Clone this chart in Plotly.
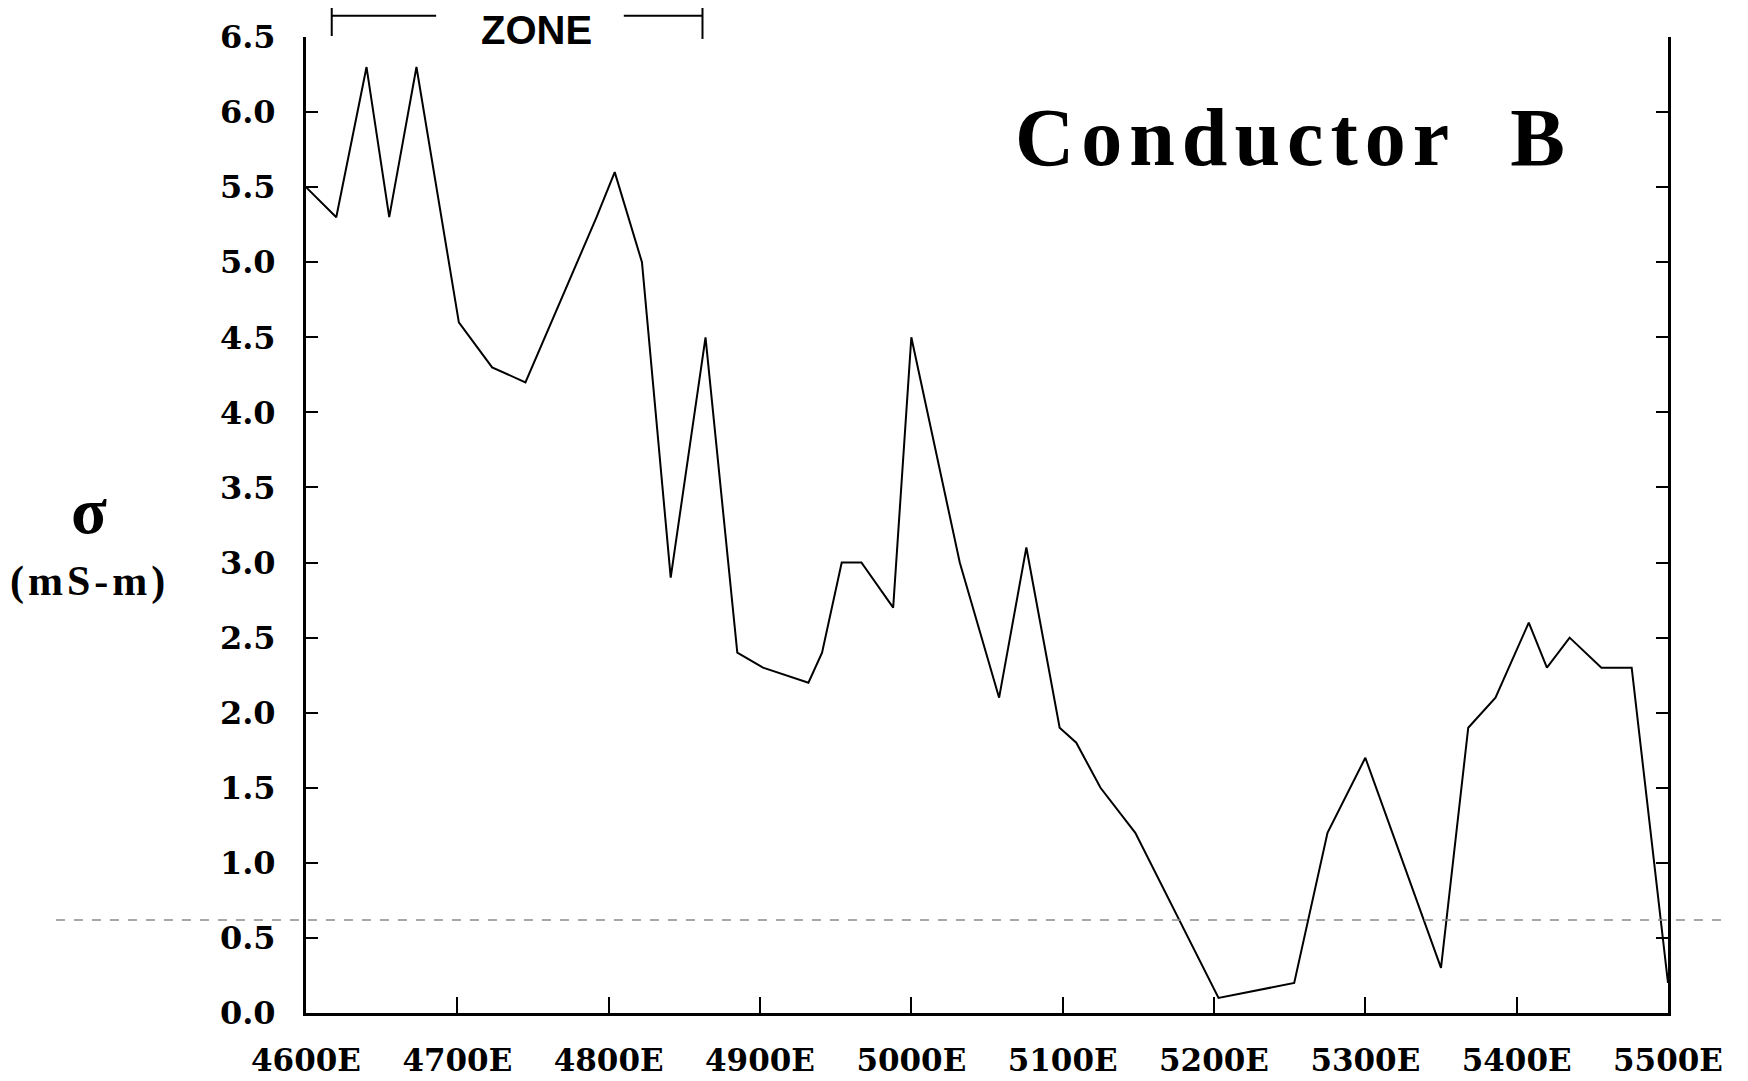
import plotly.graph_objects as go

# ---- data ----
station_e = [4600, 4620, 4640, 4655, 4673, 4701, 4723, 4745, 4792, 4804, 4822, 4841,
             4864, 4885, 4902, 4932, 4941, 4954, 4967, 4988, 5000, 5032, 5058, 5076,
             5098, 5109, 5125, 5148, 5203, 5253, 5275, 5300, 5350, 5368, 5386, 5408,
             5420, 5435, 5456, 5476, 5500]
sigma = [5.5, 5.3, 6.3, 5.3, 6.3, 4.6, 4.3, 4.2, 5.3, 5.6, 5.0, 2.9,
         4.5, 2.4, 2.3, 2.2, 2.4, 3.0, 3.0, 2.7, 4.5, 3.0, 2.1, 3.1,
         1.9, 1.8, 1.5, 1.2, 0.1, 0.2, 1.2, 1.7, 0.3, 1.9, 2.1, 2.6,
         2.3, 2.5, 2.3, 2.3, 0.2]

x_tickvals = [4600, 4700, 4800, 4900, 5000, 5100, 5200, 5300, 5400, 5500]
x_ticktext = ["4600E", "4700E", "4800E", "4900E", "5000E",
              "5100E", "5200E", "5300E", "5400E", "5500E"]
y_tickvals = [0.0, 0.5, 1.0, 1.5, 2.0, 2.5, 3.0, 3.5, 4.0, 4.5, 5.0, 5.5, 6.0, 6.5]
y_ticktext = ["0.0", "0.5", "1.0", "1.5", "2.0", "2.5", "3.0", "3.5",
              "4.0", "4.5", "5.0", "5.5", "6.0", "6.5"]

zone_start = 4617
zone_end = 4862
zone_left_seg_end = 4686
zone_right_seg_start = 4810
zone_label_x = 4752
title_text = "Conductor B"
y_symbol = "σ"
y_unit = "(mS-m)"
zone_label = "ZONE"

SERIF = "Liberation Serif, Times New Roman, serif"
TICKFONT = "DejaVu Serif, serif"

fig = go.Figure()
fig.add_trace(go.Scatter(x=station_e, y=sigma, mode="lines",
                         line=dict(color="black", width=2), showlegend=False))

# page has an 8px body margin, so the figure is 8px smaller and margins shifted
fig.update_layout(
    width=1740, height=1073,
    margin=dict(l=298, r=80, t=29, b=68, autoexpand=False),
    paper_bgcolor="white", plot_bgcolor="white",
    xaxis=dict(range=[4600, 5500], tickvals=x_tickvals, ticktext=x_ticktext,
               ticks="inside", ticklen=16, tickwidth=2, tickcolor="black",
               showline=True, linewidth=3, linecolor="black", mirror=False,
               showgrid=False, zeroline=False, ticklabelstandoff=18,
               automargin=False,
               tickfont=dict(family=TICKFONT, size=31, color="black", weight="bold")),
    yaxis=dict(range=[0, 6.5], tickvals=y_tickvals, ticktext=y_ticktext,
               ticks="inside", ticklen=12, tickwidth=2, tickcolor="black",
               showline=True, linewidth=3, linecolor="black", mirror="ticks",
               showgrid=False, zeroline=False, ticklabelstandoff=21,
               automargin=False,
               tickfont=dict(family=TICKFONT, size=32, color="black", weight="bold")),
)

# title inside the plot
fig.add_annotation(xref="paper", yref="paper", x=0.519, y=0.897,
                   xanchor="left", yanchor="middle", showarrow=False,
                   text='<span style="letter-spacing:7px; word-spacing:28px">' + title_text + '</span>',
                   font=dict(family=SERIF, size=82, color="black", weight="bold"))

# y-axis label
fig.add_annotation(xref="paper", yref="paper", x=-0.1593, y=0.515,
                   xanchor="center", yanchor="middle", showarrow=False,
                   text=y_symbol,
                   font=dict(family=SERIF, size=66, color="black", weight="bold"))
fig.add_annotation(xref="paper", yref="paper", x=-0.1586, y=0.4416,
                   xanchor="center", yanchor="middle", showarrow=False,
                   text='<span style="letter-spacing:4px">' + y_unit + '</span>',
                   font=dict(family=SERIF, size=42, color="black", weight="bold"))

# ZONE bracket above the plot
line_style = dict(color="black", width=2)
fig.add_shape(type="line", xref="x", yref="paper", x0=zone_start, x1=zone_start,
              y0=1.0379, y1=1.001, line=line_style)
fig.add_shape(type="line", xref="x", yref="paper", x0=zone_end, x1=zone_end,
              y0=1.0379, y1=0.998, line=line_style)
fig.add_shape(type="line", xref="x", yref="paper", x0=zone_start, x1=zone_left_seg_end,
              y0=1.0218, y1=1.0218, line=line_style)
fig.add_shape(type="line", xref="x", yref="paper", x0=zone_right_seg_start, x1=zone_end,
              y0=1.0218, y1=1.0218, line=line_style)
fig.add_annotation(xref="x", yref="paper", x=zone_label_x, y=1.0072,
                   xanchor="center", yanchor="middle", showarrow=False,
                   text=zone_label,
                   font=dict(family="Liberation Sans, Arial, sans-serif", size=40,
                             color="black", weight="bold"))

# faint broken scan line across the page
fig.add_shape(type="line", xref="paper", yref="paper", x0=-0.1836, x1=1.0396,
              y0=0.0953, y1=0.0953,
              line=dict(color="#8a8a8a", width=1.5, dash="dash"))

fig.write_html("out.html")
